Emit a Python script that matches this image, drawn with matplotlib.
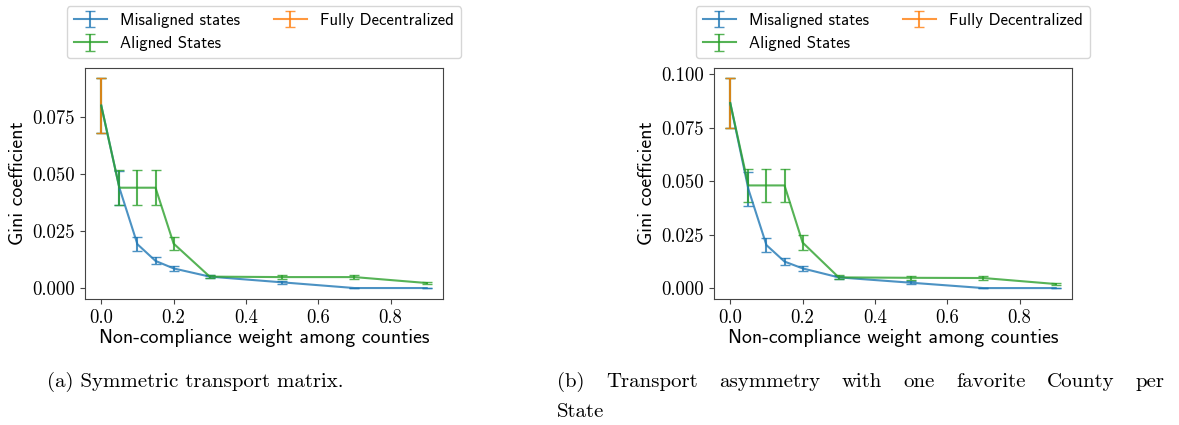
import matplotlib
matplotlib.use("Agg")
import matplotlib.pyplot as plt
from matplotlib.ticker import MultipleLocator, FormatStrFormatter

plt.rcParams['font.family'] = 'cmr10'
plt.rcParams['axes.formatter.use_mathtext'] = True

# non-compliance weights shared by every run
weights = [0.0, 0.05, 0.1, 0.15, 0.2, 0.3, 0.5, 0.7, 0.9]

# (a) symmetric transport matrix
mis_a = [0.080, 0.044, 0.0192, 0.0119, 0.0086, 0.0050, 0.0025, 0.0, 0.0]
mis_a_err = [0.012, 0.0075, 0.0031, 0.0015, 0.0012, 0.0008, 0.0007, 0.0002, 0.0002]
ali_a = [0.080, 0.044, 0.044, 0.044, 0.0195, 0.0050, 0.0048, 0.0048, 0.0022]
ali_a_err = [0.012, 0.0076, 0.0076, 0.0076, 0.0030, 0.0008, 0.0008, 0.0007, 0.0004]
dec_a = 0.080
dec_a_err = 0.012

# (b) one favorite county per state
mis_b = [0.0865, 0.0463, 0.0201, 0.0124, 0.0092, 0.0050, 0.0025, 0.0, 0.0]
mis_b_err = [0.0115, 0.0080, 0.0033, 0.0018, 0.0013, 0.0008, 0.0006, 0.0002, 0.0002]
ali_b = [0.0865, 0.048, 0.048, 0.048, 0.0213, 0.0050, 0.0048, 0.0047, 0.0019]
ali_b_err = [0.0115, 0.0077, 0.0077, 0.0077, 0.0035, 0.0009, 0.0009, 0.0008, 0.0005]
dec_b = 0.0865
dec_b_err = 0.0115

captions = ['(a) Symmetric transport matrix.',
            '(b) Transport asymmetry with one favorite County per',
            'State']

W, H = 1179, 425
fig = plt.figure(figsize=(W / 100, H / 100), dpi=100)
ax_a = fig.add_axes([85 / W, 1 - 299 / H, 358 / W, 231 / H])
ax_b = fig.add_axes([714 / W, 1 - 299 / H, 358 / W, 231 / H])

sans = 'cmss10'
for ax, mis, mis_err, ali, ali_err, dec, dec_err in [
        (ax_a, mis_a, mis_a_err, ali_a, ali_a_err, dec_a, dec_a_err),
        (ax_b, mis_b, mis_b_err, ali_b, ali_b_err, dec_b, dec_b_err)]:
    kw = dict(capsize=3.5, lw=1.5, alpha=0.8)
    ax.errorbar(weights, mis, yerr=mis_err, color='tab:blue',
                label='Misaligned states', **kw)
    ax.errorbar(weights, ali, yerr=ali_err, color='tab:green',
                label='Aligned States', **kw)
    ax.errorbar([0.0], [dec], yerr=[dec_err], color='tab:orange',
                label='Fully Decentralized', **kw)

    ax.xaxis.set_major_locator(MultipleLocator(0.2))
    ax.xaxis.set_major_formatter(FormatStrFormatter('%.1f'))
    ax.yaxis.set_major_locator(MultipleLocator(0.025))
    ax.yaxis.set_major_formatter(FormatStrFormatter('%.3f'))
    ax.tick_params(labelsize=13.5, color='#444444')
    for s in ax.spines.values():
        s.set_color('#444444')

    ax.set_xlabel('Non-compliance weight among counties', family=sans,
                  fontsize=14.3, labelpad=2)
    ax.set_ylabel('Gini coefficient', family=sans, fontsize=14.3, labelpad=4)
    ax.legend(loc='lower center', bbox_to_anchor=(0.5, 1.0), ncol=2,
              prop=dict(family=sans, size=12), borderaxespad=0.6)

ax_a.set_ylim(top=0.0965)

# sub-figure captions, the long one justified across the line
cap_size = 15
fig.text(47 / W, 1 - 382 / H, captions[0], fontsize=cap_size, va='center')

fig.canvas.draw()
r = fig.canvas.get_renderer()
words = captions[1].split()
x0, x1 = 557, 1165
arts = [fig.text(0, 1 - 382 / H, w, fontsize=cap_size, va='center') for w in words]
widths = [a.get_window_extent(r).width for a in arts]
gap = (x1 - x0 - sum(widths)) / (len(words) - 1)
x = x0
for a, w in zip(arts, widths):
    a.set_x(x / W)
    x += w + gap
fig.text(x0 / W, 1 - 412 / H, captions[2], fontsize=cap_size, va='center')

fig.savefig('out.png', dpi=100)
